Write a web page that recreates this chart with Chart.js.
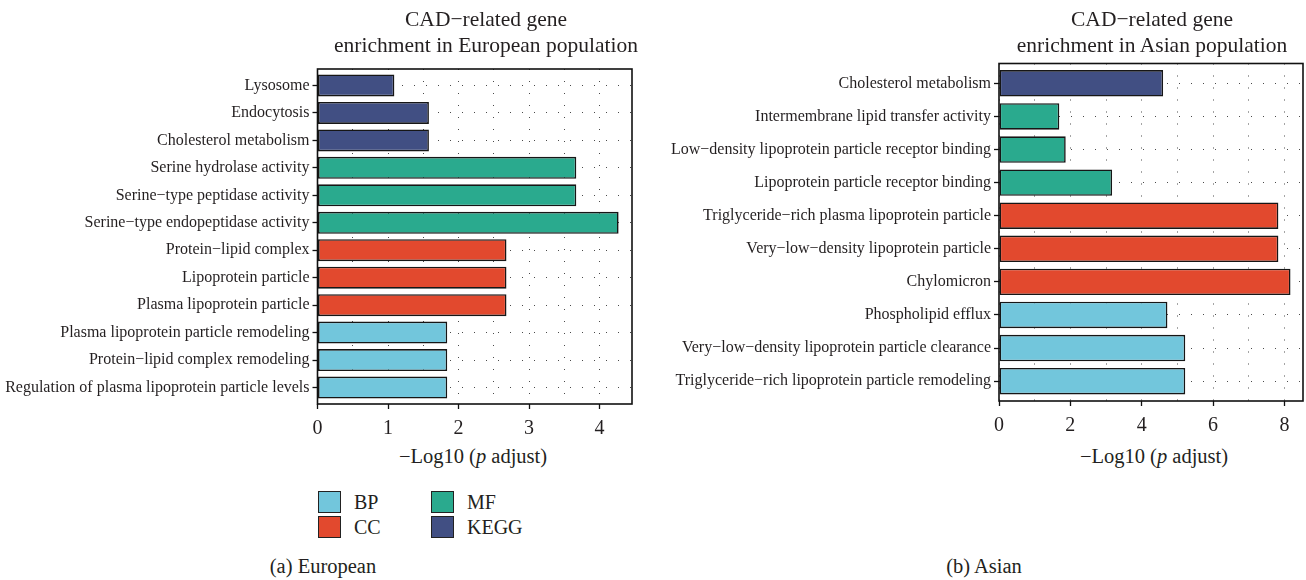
<!DOCTYPE html>
<html>
<head>
<meta charset="utf-8">
<script src="https://cdn.jsdelivr.net/npm/chart.js@4/dist/chart.umd.min.js"></script>
<style>
  html, body { margin: 0; padding: 0; background: #fff; }
  body { position: relative; width: 1306px; height: 580px; overflow: hidden;
         font-family: "Liberation Serif", "DejaVu Serif", serif; color: #231f20; }
  canvas { position: absolute; top: 0; }
  .txt { position: absolute; white-space: nowrap; text-align: center; transform: translateX(-50%); }
  .title { font-size: 21.5px; line-height: 26px; }
  .axt { font-size: 20.5px; line-height: 24px; }
  .cap { font-size: 20.5px; line-height: 24px; }
  .sw { position: absolute; width: 21px; height: 20px; border: 1px solid #222; }
  .lg { position: absolute; font-size: 20px; line-height: 24px; white-space: nowrap; }
</style>
</head>
<body>

<canvas id="eu" width="660" height="440" style="left:0"></canvas>
<canvas id="as" width="646" height="440" style="left:660px"></canvas>

<div class="txt title" style="left:486px; top:6px">CAD−related gene<br>enrichment in European population</div>
<div class="txt title" style="left:1152px; top:6px">CAD−related gene<br>enrichment in Asian population</div>

<div class="txt axt" style="left:473px; top:444px">−Log10 (<i>p</i> adjust)</div>
<div class="txt axt" style="left:1154px; top:444px">−Log10 (<i>p</i> adjust)</div>

<div id="legend"></div>

<div class="txt cap" style="left:323px; top:554px">(a) European</div>
<div class="txt cap" style="left:984px; top:554px">(b) Asian</div>

<script>
// European population: enriched terms, -log10(p adjust), and term group
const euCategories = [
  'Lysosome',
  'Endocytosis',
  'Cholesterol metabolism',
  'Serine hydrolase activity',
  'Serine−type peptidase activity',
  'Serine−type endopeptidase activity',
  'Protein−lipid complex',
  'Lipoprotein particle',
  'Plasma lipoprotein particle',
  'Plasma lipoprotein particle remodeling',
  'Protein−lipid complex remodeling',
  'Regulation of plasma lipoprotein particle levels'
];
const euValues = [1.09, 1.58, 1.58, 3.67, 3.67, 4.27, 2.68, 2.68, 2.68, 1.84, 1.84, 1.84];
const euGroups = ['KEGG', 'KEGG', 'KEGG', 'MF', 'MF', 'MF', 'CC', 'CC', 'CC', 'BP', 'BP', 'BP'];
const euTickLabels = [0, 1, 2, 3, 4];
const euGridLines = [0, 0.5, 1, 1.5, 2, 2.5, 3, 3.5, 4];
const euMax = 4.46;

// Asian population
const asCategories = [
  'Cholesterol metabolism',
  'Intermembrane lipid transfer activity',
  'Low−density lipoprotein particle receptor binding',
  'Lipoprotein particle receptor binding',
  'Triglyceride−rich plasma lipoprotein particle',
  'Very−low−density lipoprotein particle',
  'Chylomicron',
  'Phospholipid efflux',
  'Very−low−density lipoprotein particle clearance',
  'Triglyceride−rich lipoprotein particle remodeling'
];
const asValues = [4.60, 1.69, 1.87, 3.17, 7.83, 7.83, 8.17, 4.72, 5.22, 5.22];
const asGroups = ['KEGG', 'MF', 'MF', 'MF', 'CC', 'CC', 'CC', 'BP', 'BP', 'BP'];
const asTickLabels = [0, 2, 4, 6, 8];
const asGridLines = [0, 1, 2, 3, 4, 5, 6, 7, 8];
const asMax = 8.52;

const legendGroups = ['BP', 'CC', 'MF', 'KEGG'];
const groupColors = { BP: '#72C6DC', CC: '#E2492E', MF: '#2AAA8E', KEGG: '#414F83' };

const FONT = '"Liberation Serif", "DejaVu Serif", serif';
const INK = '#231f20';

// Solid box round the plotting area
const framePlugin = {
  id: 'frame',
  afterDatasetsDraw(chart) {
    const { ctx, chartArea: a } = chart;
    ctx.save();
    ctx.strokeStyle = '#111';
    ctx.lineWidth = 1.6;
    ctx.strokeRect(a.left, a.top, a.right - a.left, a.bottom - a.top);
    ctx.restore();
  }
};

function enrichmentChart(id, cats, vals, groups, gridLines, tickLabels, xMax, area) {
  const canvas = document.getElementById(id);
  const cw = canvas.width, ch = canvas.height;
  return new Chart(canvas, {
    type: 'bar',
    data: {
      datasets: [{
        data: vals.map((v, i) => ({ x: v, y: i })),
        backgroundColor: groups.map(g => groupColors[g]),
        borderColor: '#161616',
        borderWidth: 1.6,
        borderSkipped: false,
        barPercentage: 0.8,
        categoryPercentage: 1
      }]
    },
    options: {
      indexAxis: 'y',
      responsive: false,
      animation: false,
      devicePixelRatio: 1,
      layout: { padding: { top: area.top, right: cw - area.right, bottom: 0, left: 0 } },
      plugins: { legend: { display: false }, tooltip: { enabled: false }, title: { display: false } },
      scales: {
        x: {
          type: 'linear',
          position: 'bottom',
          min: 0,
          max: xMax,
          afterBuildTicks: s => { s.ticks = gridLines.map(v => ({ value: v })); },
          afterFit: s => { s.height = ch - area.bottom; },
          ticks: {
            autoSkip: false,
            maxRotation: 0,
            padding: 8,
            color: INK,
            font: { family: FONT, size: 20 },
            callback: v => tickLabels.includes(v) ? String(v) : ''
          },
          grid: {
            color: '#4a4a4a',
            lineWidth: 1,
            tickLength: 5,
            tickWidth: 1.3,
            tickColor: c => (c.tick && tickLabels.includes(c.tick.value)) ? '#111' : 'rgba(0,0,0,0)'
          },
          border: { display: false, dash: [1, 11] }
        },
        y: {
          type: 'linear',
          reverse: true,
          offset: false,
          min: -0.6,
          max: cats.length - 0.4,
          afterBuildTicks: s => { s.ticks = cats.map((_, i) => ({ value: i })); },
          afterFit: s => { s.width = area.left; },
          ticks: {
            autoSkip: false,
            padding: 3,
            color: INK,
            font: { family: FONT, size: 16 },
            callback: v => cats[v]
          },
          grid: {
            offset: false,
            color: '#4a4a4a',
            lineWidth: 1,
            tickLength: 5,
            tickWidth: 1.3,
            tickColor: '#111'
          },
          border: { display: false, dash: [1, 11] }
        }
      }
    },
    plugins: [framePlugin]
  });
}

enrichmentChart('eu', euCategories, euValues, euGroups, euGridLines, euTickLabels, euMax,
  { left: 317.5, top: 69, right: 632, bottom: 404 });
enrichmentChart('as', asCategories, asValues, asGroups, asGridLines, asTickLabels, asMax,
  { left: 339, top: 63.5, right: 643, bottom: 401 });

// Legend: two columns of colour keys under the European panel
const legend = document.getElementById('legend');
const legendPos = [[318, 491], [318, 516], [431, 491], [431, 516]];
legendGroups.forEach((g, i) => {
  const [x, y] = legendPos[i];
  const sw = document.createElement('div');
  sw.className = 'sw';
  sw.style.left = x + 'px';
  sw.style.top = y + 'px';
  sw.style.background = groupColors[g];
  legend.appendChild(sw);
  const t = document.createElement('div');
  t.className = 'lg';
  t.style.left = (x + 36) + 'px';
  t.style.top = (y - 1) + 'px';
  t.textContent = g;
  legend.appendChild(t);
});
</script>
</body>
</html>
